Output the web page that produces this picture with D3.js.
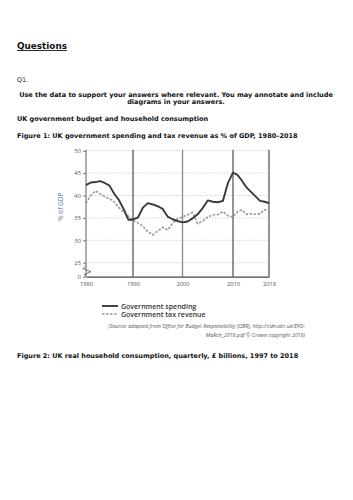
<!DOCTYPE html>
<html><head><meta charset="utf-8">
<script src="https://cdn.jsdelivr.net/npm/d3@7"></script>
<style>
html,body{margin:0;padding:0;background:#fff;}
svg{display:block;}
</style></head>
<body>
<svg id="page" width="353" height="500"></svg>
<script>
const years = d3.range(1980, 2019);
const spending = [42.3,42.9,43.0,43.2,42.8,42.2,40.4,39.0,37.0,34.6,
  34.6,35.1,37.3,38.3,38.0,37.6,37.0,35.3,34.7,34.3,
  34.0,34.2,34.9,35.8,37.2,38.9,38.6,38.5,38.8,42.8,
  45.1,44.6,43.3,41.8,40.8,39.8,38.8,38.6,38.3];
const taxRevenue = [38.3,40.0,41.0,40.4,39.7,39.3,38.6,37.3,36.3,35.4,
  34.4,33.9,33.1,31.9,31.2,32.1,32.9,32.3,33.8,34.8,
  35.2,35.7,36.2,33.7,34.3,35.2,35.7,35.7,36.4,35.5,
  35.2,36.4,36.8,35.8,35.9,35.8,35.9,36.8,36.8];
const yTicks = [0,25,30,35,40,45,50];
const xTicks = [1980,1990,2000,2010,2018];
const seriesNames = ["Government spending","Government tax revenue"];

const svg = d3.select("#page");
const docFont = "DejaVu Sans";
const chartFont = "Open Sans";

function fitText(sel, targetW){
  const w = sel.node().getComputedTextLength();
  const fs = parseFloat(sel.attr("font-size"));
  sel.attr("font-size", (fs*targetW/w).toFixed(2));
}

// document text
const q = svg.append("text").attr("x",17).attr("y",49).attr("font-family",docFont)
  .attr("font-weight","bold").attr("font-size",10).attr("fill","#111")
  .attr("text-decoration","underline").text("Questions");
fitText(q, 50);
svg.append("text").attr("x",17).attr("y",82).attr("font-family",docFont)
  .attr("font-size",6.5).attr("fill","#222").text("Q1.");
const l1 = svg.append("text").attr("x",176).attr("y",97).attr("text-anchor","middle")
  .attr("font-family",docFont).attr("font-weight","bold").attr("font-size",7).attr("fill","#111")
  .text("Use the data to support your answers where relevant. You may annotate and include");
fitText(l1, 314);
const fsBody = l1.attr("font-size");
svg.append("text").attr("x",176).attr("y",104).attr("text-anchor","middle")
  .attr("font-family",docFont).attr("font-weight","bold").attr("font-size",fsBody).attr("fill","#111")
  .text("diagrams in your answers.");
const h = svg.append("text").attr("x",17).attr("y",121).attr("font-family",docFont)
  .attr("font-weight","bold").attr("font-size",fsBody).attr("fill","#111")
  .text("UK government budget and household consumption");
fitText(h, 191);
const f1 = svg.append("text").attr("x",17).attr("y",137.5).attr("font-family",docFont)
  .attr("font-weight","bold").attr("font-size",fsBody).attr("fill","#111")
  .text("Figure 1: UK government spending and tax revenue as % of GDP, 1980–2018");
fitText(f1, 281);
const f2 = svg.append("text").attr("x",17).attr("y",358).attr("font-family",docFont)
  .attr("font-weight","bold").attr("font-size",fsBody).attr("fill","#111")
  .text("Figure 2: UK real household consumption, quarterly, £ billions, 1997 to 2018");
fitText(f2, 281);

// chart
const x = d3.scaleLinear().domain([1980,1990,2000,2010,2018]).range([86,133,182.5,233,269]);
const y = d3.scaleLinear().domain([0,25,50]).range([276.7,262.7,150.7]);
const g = svg.append("g");

// dotted gridlines
g.selectAll(".grid").data(yTicks.filter(d=>d>0)).join("line")
  .attr("x1",x(1980)).attr("x2",x(2018)).attr("y1",d=>y(d)).attr("y2",d=>y(d))
  .attr("stroke","#c8c8c8").attr("stroke-width",0.8).attr("stroke-dasharray","1.5,1.5");

// vertical decade lines
g.selectAll(".vl").data([1990,2000,2010,2018]).join("line")
  .attr("x1",d=>x(d)).attr("x2",d=>x(d)).attr("y1",y(50)-1).attr("y2",y(0))
  .attr("stroke",d=>d===2000?"#8a8a8a":"#5a5a5a").attr("stroke-width",1.3);

// y axis
const yAxis = d3.axisLeft(y).tickValues(yTicks).tickSize(3).tickPadding(2);
const ya = g.append("g").attr("transform",`translate(${x(1980)},0)`).call(yAxis);
ya.select(".domain").attr("stroke","#9a9a9a").attr("stroke-width",1.6)
  .attr("d",`M0,${y(50)-1}V${y(0)}`);
ya.selectAll(".tick line").attr("stroke","#777");
ya.selectAll(".tick text").attr("font-family",chartFont).attr("font-size",5.8).attr("fill","#555");

// x axis
const xAxis = d3.axisBottom(x).tickValues(xTicks).tickFormat(d3.format("d")).tickSize(0).tickPadding(5);
const xa = g.append("g").attr("transform",`translate(0,${y(0)})`).call(xAxis);
xa.select(".domain").attr("stroke","#444").attr("stroke-width",1.2);
xa.selectAll(".tick text").attr("font-family",chartFont).attr("font-size",5.8).attr("fill","#555");

// axis break zigzag
g.append("path").attr("d",`M${x(1980)},${y(25)+3} L${x(1980)-3},${y(25)+6} L${x(1980)+5},${y(25)+9} L${x(1980)-2},${y(25)+12} L${x(1980)},${y(25)+13}`)
  .attr("fill","none").attr("stroke","#666").attr("stroke-width",0.9);

// y label
g.append("text").attr("transform",`translate(63,${(y(50)+y(25))/2}) rotate(-90)`)
  .attr("text-anchor","middle").attr("font-family",chartFont).attr("font-size",6.5)
  .attr("fill","#4a6a9a").text("% of GDP");

// lines
const line = vals => d3.line().x((d,i)=>x(years[i])).y(d=>y(d))(vals);
g.append("path").attr("d",line(taxRevenue)).attr("fill","none")
  .attr("stroke","#9a9a9a").attr("stroke-width",1.6).attr("stroke-dasharray","2.5,1.5");
g.append("path").attr("d",line(spending)).attr("fill","none")
  .attr("stroke","#3a3a3a").attr("stroke-width",1.9).attr("stroke-linejoin","round");

// legend
const leg = g.append("g");
leg.append("line").attr("x1",102).attr("x2",118).attr("y1",306).attr("y2",306)
  .attr("stroke","#3a3a3a").attr("stroke-width",1.9);
leg.append("line").attr("x1",102).attr("x2",118).attr("y1",314).attr("y2",314)
  .attr("stroke","#9a9a9a").attr("stroke-width",1.6).attr("stroke-dasharray","2.5,1.5");
leg.selectAll("text").data(seriesNames).join("text")
  .attr("x",121).attr("y",(d,i)=>308.5+i*8).attr("font-family",chartFont)
  .attr("font-weight","600").attr("font-size",7).attr("fill","#333").text(d=>d);

// source
const s1 = g.append("text").attr("x",305).attr("y",328).attr("text-anchor","end")
  .attr("font-family",chartFont).attr("font-style","italic").attr("font-size",5).attr("fill","#555")
  .text("(Source: adapted from Office for Budget Responsibility (OBR), http://cdn.obr.uk/EFO-");
fitText(s1, 197);
g.append("text").attr("x",305).attr("y",337).attr("text-anchor","end")
  .attr("font-family",chartFont).attr("font-style","italic").attr("font-size",s1.attr("font-size")).attr("fill","#555")
  .text("MaRch_2018.pdf © Crown copyright 2018)");
</script>
</body></html>
